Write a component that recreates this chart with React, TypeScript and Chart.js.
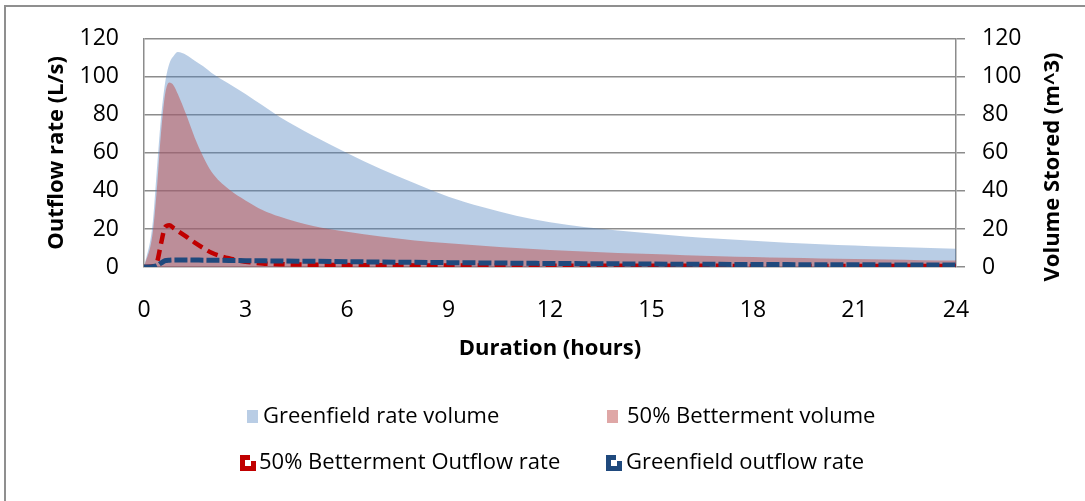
import React, { useEffect, useRef } from 'react';
import { Chart, registerables } from 'chart.js';

Chart.register(...registerables);

const FONT = "'Open Sans', 'Noto Sans', sans-serif";
const GRID = '#8c8c8c';

// Duration (hours)
const hours = [0, 0.25, 0.375, 0.5, 0.625, 0.75, 0.875, 1, 1.25, 1.5, 1.75, 2, 2.5, 3, 3.5, 4, 5, 6, 7, 8, 9, 10, 11, 12, 13, 14, 15, 16, 17, 18, 19, 20, 21, 22, 23, 24];

// Volume stored (m^3) - right axis
const greenfieldVolume = [0, 22, 50, 78, 97, 107, 111, 113, 111.5, 108.5, 105.5, 102, 96.5, 91, 85, 79, 69, 60, 51.5, 44, 37, 31.5, 27, 23.5, 21, 19.2, 17.6, 16.1, 14.9, 13.8, 12.8, 12, 11.3, 10.6, 10.1, 9.6];
const bettermentVolume = [0, 17, 40, 70, 91, 97, 95.5, 91, 80, 68, 58, 50, 41, 35, 30, 26.5, 21.5, 18.5, 16, 14, 12.5, 11.2, 10, 9, 8.2, 7.4, 6.8, 6.2, 5.7, 5.2, 4.8, 4.5, 4.2, 3.9, 3.6, 3.4];

// Outflow rate (L/s) - left axis
const bettermentOutflow = [0, 0.3, 2, 12, 21, 22, 20.5, 19, 16, 12.8, 10, 7.5, 4.6, 2.8, 1.9, 1.5, 1.2, 1.0, 0.9, 0.85, 0.8, 0.75, 0.7, 0.7, 0.65, 0.65, 0.6, 0.6, 0.6, 0.55, 0.55, 0.5, 0.5, 0.5, 0.5, 0.5];
const greenfieldOutflow = [0, 0.2, 0.6, 2, 3.3, 3.6, 3.7, 3.7, 3.7, 3.65, 3.6, 3.55, 3.45, 3.35, 3.25, 3.15, 3.0, 2.8, 2.6, 2.45, 2.3, 2.15, 2.0, 1.85, 1.75, 1.65, 1.55, 1.45, 1.4, 1.3, 1.25, 1.2, 1.15, 1.1, 1.05, 1.0];

const seriesNames = ['Greenfield rate volume', '50% Betterment volume', '50% Betterment Outflow rate', 'Greenfield outflow rate'];
const xTitle = 'Duration (hours)';
const yLeftTitle = 'Outflow rate (L/s)';
const yRightTitle = 'Volume Stored (m^3)';
const axisMin = 0;
const yAxisMax = 120;
const yStep = 20;
const xAxisMax = 24;
const xStep = 3;

const BLUE_FILL = 'rgba(79,129,189,0.4)';
const PINK_FILL = 'rgba(192,80,77,0.5)';
const RED_LINE = '#c00000';
const BLUE_LINE = '#1f497d';

const toPoints = (vals: number[]) => hours.map((h, i) => ({ x: h, y: vals[i] }));

const drawLineIcon = (ctx: CanvasRenderingContext2D, x: number, y: number, color: string) => {
  ctx.fillStyle = color;
  ctx.fillRect(x, y, 16, 16);
  ctx.fillStyle = '#ffffff';
  ctx.fillRect(x + 5, y + 5, 6, 6);
  ctx.fillRect(x + 10, y, 6, 6);
};

const customPlugin = {
  id: 'customPlugin',
  afterDraw(chart: any) {
    const ctx: CanvasRenderingContext2D = chart.ctx;
    ctx.save();
    // right axis title (reads bottom to top)
    ctx.fillStyle = '#000';
    ctx.font = `bold 22px ${FONT}`;
    ctx.textAlign = 'center';
    ctx.textBaseline = 'middle';
    ctx.translate(1053, 167);
    ctx.rotate(-Math.PI / 2);
    ctx.fillText(yRightTitle, 0, 0);
    ctx.restore();

    // legend
    ctx.save();
    ctx.font = `22px ${FONT}`;
    ctx.textAlign = 'left';
    ctx.textBaseline = 'middle';
    ctx.fillStyle = BLUE_FILL;
    ctx.fillRect(247, 410, 11, 13);
    ctx.fillStyle = '#000';
    ctx.fillText(seriesNames[0], 263, 417);
    ctx.fillStyle = PINK_FILL;
    ctx.fillRect(607, 410, 11, 13);
    ctx.fillStyle = '#000';
    ctx.fillText(seriesNames[1], 627, 417);
    drawLineIcon(ctx, 240, 455, RED_LINE);
    ctx.fillStyle = '#000';
    ctx.fillText(seriesNames[2], 259, 463);
    drawLineIcon(ctx, 606, 455, BLUE_LINE);
    ctx.fillStyle = '#000';
    ctx.fillText(seriesNames[3], 626, 463);
    ctx.restore();
  },
};

export default function App() {
  const ref = useRef<HTMLCanvasElement | null>(null);
  useEffect(() => {
    if (!ref.current) return;
    const chart = new Chart(ref.current, {
      type: 'line',
      data: {
        datasets: [
          {
            label: seriesNames[0],
            data: toPoints(greenfieldVolume),
            yAxisID: 'y1',
            fill: 'origin',
            backgroundColor: BLUE_FILL,
            borderWidth: 0,
            borderColor: 'rgba(0,0,0,0)',
            cubicInterpolationMode: 'monotone',
            order: 4,
          },
          {
            label: seriesNames[1],
            data: toPoints(bettermentVolume),
            yAxisID: 'y1',
            fill: 'origin',
            backgroundColor: PINK_FILL,
            borderWidth: 0,
            borderColor: 'rgba(0,0,0,0)',
            cubicInterpolationMode: 'monotone',
            order: 3,
          },
          {
            label: seriesNames[2],
            data: toPoints(bettermentOutflow),
            yAxisID: 'y',
            fill: false,
            borderColor: RED_LINE,
            borderWidth: 4.5,
            borderDash: [11, 6],
            borderCapStyle: 'butt',
            cubicInterpolationMode: 'monotone',
            order: 2,
          },
          {
            label: seriesNames[3],
            data: toPoints(greenfieldOutflow),
            yAxisID: 'y',
            fill: false,
            borderColor: BLUE_LINE,
            borderWidth: 5,
            borderDash: [13, 3],
            borderCapStyle: 'butt',
            cubicInterpolationMode: 'monotone',
            order: 1,
          },
        ],
      },
      options: {
        animation: false,
        responsive: false,
        maintainAspectRatio: false,
        layout: { padding: { top: 34, left: 0, right: 0, bottom: 139 } },
        elements: { point: { radius: 0, hoverRadius: 0 } },
        plugins: { legend: { display: false }, tooltip: { enabled: false } },
        scales: {
          x: {
            type: 'linear',
            min: axisMin,
            max: xAxisMax,
            ticks: { stepSize: xStep, color: '#000', font: { size: 23, family: FONT }, padding: 22 },
            grid: { display: false },
            border: { display: false },
            title: {
              display: true,
              text: xTitle,
              color: '#000',
              font: { size: 22, weight: 'bold', family: FONT },
              padding: { top: 0, bottom: 0 },
            },
            afterFit: (s: any) => { s.height = 95; },
          },
          y: {
            position: 'left',
            min: axisMin,
            max: yAxisMax,
            ticks: { stepSize: yStep, color: '#000', font: { size: 23, family: FONT }, padding: 25 },
            grid: { color: GRID, lineWidth: 1.5, drawTicks: false },
            border: { display: true, color: GRID, width: 1.5 },
            title: {
              display: true,
              text: yLeftTitle,
              color: '#000',
              font: { size: 22, weight: 'bold', family: FONT },
              padding: { top: 44, bottom: 0 },
            },
            afterFit: (s: any) => { s.width = 144; },
          },
          y1: {
            position: 'right',
            min: axisMin,
            max: yAxisMax,
            ticks: { stepSize: yStep, color: '#000', font: { size: 23, family: FONT }, padding: 17 },
            grid: { drawOnChartArea: false, color: GRID, lineWidth: 1.5, tickLength: 9 },
            border: { display: true, color: GRID, width: 1.5 },
            afterFit: (s: any) => { s.width = 129; },
          },
        },
      },
      plugins: [customPlugin],
    } as any);
    return () => chart.destroy();
  }, []);

  return (
    <div style={{ position: 'fixed', left: 0, top: 0, width: 1085, height: 501, background: '#fff', overflow: 'hidden' }}>
      <div style={{ position: 'absolute', left: 4, top: 5, width: 1200, height: 600, border: '2px solid #8f8f8f', boxSizing: 'border-box' }} />
      <canvas ref={ref} width={1085} height={501} style={{ position: 'absolute', left: 0, top: 0, display: 'block' }} />
    </div>
  );
}
